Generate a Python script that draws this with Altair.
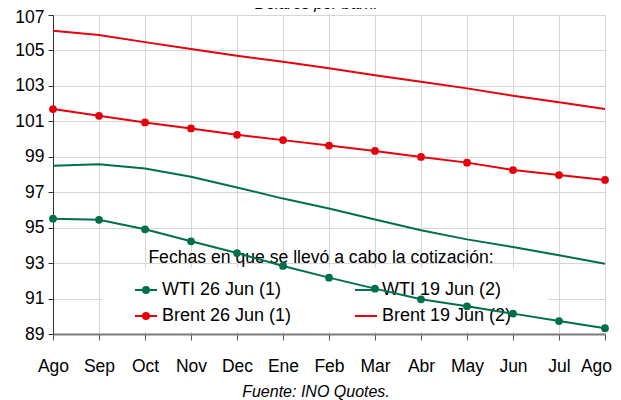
import altair as alt
import pandas as pd

MONTHS = ["Ago", "Sep", "Oct", "Nov", "Dec", "Ene", "Feb", "Mar", "Abr", "May", "Jun", "Jul", "Ago"]
SERIES = ["WTI 26 Jun (1)", "WTI 19 Jun (2)", "Brent 26 Jun (1)", "Brent 19 Jun (2)"]
WTI_26 = [95.51, 95.44, 94.91, 94.23, 93.57, 92.84, 92.18, 91.56, 90.96, 90.56, 90.15, 89.73, 89.33]
WTI_19 = [98.49, 98.58, 98.34, 97.87, 97.27, 96.64, 96.08, 95.46, 94.85, 94.34, 93.91, 93.44, 92.97]
BRENT_26 = [101.69, 101.31, 100.94, 100.60, 100.24, 99.94, 99.63, 99.33, 98.99, 98.67, 98.25, 97.97, 97.69]
BRENT_19 = [106.11, 105.87, 105.47, 105.08, 104.70, 104.36, 104.00, 103.60, 103.23, 102.86, 102.44, 102.08, 101.69]
WITH_DOTS = ["WTI 26 Jun (1)", "Brent 26 Jun (1)"]
Y_TICKS = list(range(89, 108, 2))
TITLE = "Dólares por barril"
SOURCE = "Fuente: INO Quotes."
LEGEND_TITLE = "Fechas en que se llevó a cabo la cotización:"

GREEN = "#00704a"
RED = "#e6000c"
FONT = "Liberation Sans"

rows = []
for name, vals in zip(SERIES, [WTI_26, WTI_19, BRENT_26, BRENT_19]):
    for i, v in enumerate(vals):
        rows.append({"idx": i, "valor": v, "serie": name})
df = pd.DataFrame(rows)

last = len(MONTHS) - 1
label_expr = "[" + ",".join("'%s'" % m for m in MONTHS) + "][datum.value]"

x_enc = alt.X("idx:Q", scale=alt.Scale(domain=[0, last], nice=False),
              axis=alt.Axis(values=list(range(len(MONTHS))), tickCount=len(MONTHS),
                            labelExpr=label_expr, title=None,
                            tickSize=6, labelPadding=17, gridColor="#d6d6d6",
                            domainColor="#7a7a7a", domainWidth=2,
                            tickColor="#555555", labelFontSize=17.5, labelColor="black", labelFont=FONT,
                            labelFlush=False, labelOverlap=False,
                            labelOffset={"condition": {"test": "datum.value == %d" % last, "value": -9},
                                         "value": 0}))
y_enc = alt.Y("valor:Q", scale=alt.Scale(domain=[89, 107], nice=False, zero=False),
              axis=alt.Axis(values=Y_TICKS, tickCount=len(Y_TICKS), title=None, tickSize=5,
                            labelPadding=4, gridColor="#d6d6d6", domainColor="#333333",
                            tickColor="#333333", labelFontSize=17.5, labelColor="black",
                            labelFont=FONT, labelFlush=False, labelOverlap=False,
                            labelOffset={"condition": {"test": "datum.value == %d" % max(Y_TICKS),
                                                       "value": 2}, "value": 0}))

color_scale = alt.Scale(domain=SERIES, range=[GREEN, GREEN, RED, RED])

# legend layout (pixel positions inside the plot area)
leg_rows = []
for k, name in enumerate(SERIES):
    col, row = k % 2, k // 2
    x0 = 82 + col * 220
    leg_rows.append({"serie": name, "sx": x0, "sx2": x0 + 22, "cx": x0 + 11,
                     "tx": x0 + 27, "ty": 275 + row * 26,
                     "dot": name in WITH_DOTS})
leg_df = pd.DataFrame(leg_rows)

base = alt.Chart(df)

box = alt.Chart(pd.DataFrame({"a": [0]})).mark_rect(color="white").encode(
    x=alt.value(49), x2=alt.value(495), y=alt.value(253), y2=alt.value(317))

leg_base = alt.Chart(leg_df)
leg_lines = leg_base.mark_rule(strokeWidth=2).encode(
    x=alt.X("sx:Q", scale=None), x2="sx2:Q", y=alt.Y("ty:Q", scale=None),
    color=alt.Color("serie:N", scale=color_scale, legend=None))
leg_dots = leg_base.transform_filter("datum.dot").mark_point(filled=True, size=64, opacity=1).encode(
    x=alt.X("cx:Q", scale=None), y=alt.Y("ty:Q", scale=None),
    color=alt.Color("serie:N", scale=color_scale, legend=None))
leg_text = leg_base.mark_text(align="left", baseline="middle", fontSize=18, font=FONT,
                              color="black").encode(
    x=alt.X("tx:Q", scale=None), y=alt.Y("ty:Q", scale=None), text="serie:N")
leg_title = alt.Chart(pd.DataFrame({"t": [LEGEND_TITLE]})).mark_text(
    fontSize=17.6, font=FONT, baseline="middle", align="center", color="black").encode(
    text="t:N", x=alt.value(268), y=alt.value(243))

lines = base.mark_line(strokeWidth=2).encode(
    x=x_enc, y=y_enc, color=alt.Color("serie:N", scale=color_scale, legend=None),
    detail="serie:N")

dots = base.transform_filter(alt.FieldOneOfPredicate(field="serie", oneOf=WITH_DOTS)).mark_point(
    filled=True, size=60, opacity=1).encode(
    x="idx:Q", y="valor:Q", color=alt.Color("serie:N", scale=color_scale, legend=None))

title_txt = alt.Chart(pd.DataFrame({"t": [TITLE]})).mark_text(
    fontStyle="italic", fontSize=16, font=FONT, baseline="bottom", color="black").encode(
    text="t:N", x=alt.value(263), y=alt.value(-3))

source_txt = alt.Chart(pd.DataFrame({"t": [SOURCE]})).mark_text(
    fontStyle="italic", fontSize=16, font=FONT, baseline="middle", color="black").encode(
    text="t:N", x=alt.value(263), y=alt.value(377))

chart = alt.layer(box, leg_title, leg_lines, leg_dots, leg_text, lines, dots,
                  title_txt, source_txt).properties(
    width=552, height=319,
    padding={"left": 45, "top": 7, "right": 8, "bottom": 66},
    autosize=alt.AutoSizeParams(type="none"),
).configure_view(stroke=None).configure(font=FONT)

chart.save("out.html", embed_options={"renderer": "svg", "actions": False})
